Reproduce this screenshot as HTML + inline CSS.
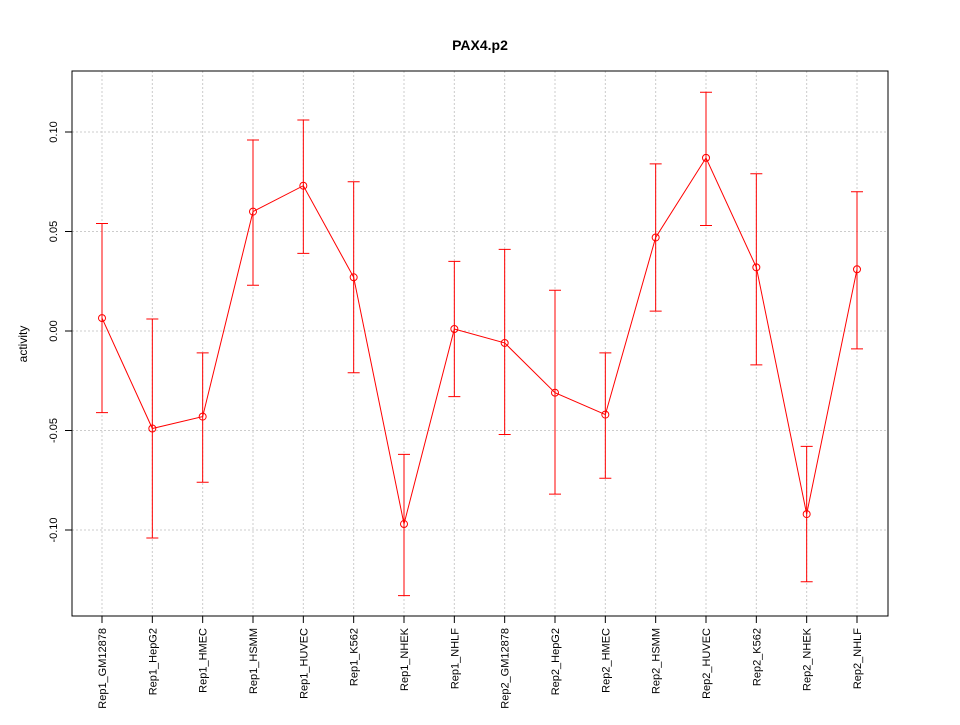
<!DOCTYPE html>
<html><head><meta charset="utf-8"><style>
html,body{margin:0;padding:0;background:#fff;}
svg text{font-family:"Liberation Sans",Arial,sans-serif;}
</style></head><body>
<svg id="chart" width="960" height="720" xmlns="http://www.w3.org/2000/svg">
<rect width="960" height="720" fill="#fff"/>
<text x="480" y="50" text-anchor="middle" font-size="14" font-weight="bold">PAX4.p2</text>
<text transform="translate(27,344) rotate(-90)" text-anchor="middle" font-size="12">activity</text>
<g id="grid"></g><g id="axes"></g><g id="marks"></g>
<rect x="72" y="71" width="816" height="545" fill="none" stroke="#000"/>
</svg>
<script>
const categories=["Rep1_GM12878","Rep1_HepG2","Rep1_HMEC","Rep1_HSMM","Rep1_HUVEC","Rep1_K562","Rep1_NHEK","Rep1_NHLF","Rep2_GM12878","Rep2_HepG2","Rep2_HMEC","Rep2_HSMM","Rep2_HUVEC","Rep2_K562","Rep2_NHEK","Rep2_NHLF"];
const means=[0.0065,-0.049,-0.043,0.060,0.073,0.027,-0.097,0.001,-0.006,-0.031,-0.042,0.047,0.087,0.032,-0.092,0.031];
const upper=[0.054,0.006,-0.011,0.096,0.106,0.075,-0.062,0.035,0.041,0.0205,-0.011,0.084,0.120,0.079,-0.058,0.070];
const lower=[-0.041,-0.104,-0.076,0.023,0.039,-0.021,-0.133,-0.033,-0.052,-0.082,-0.074,0.010,0.053,-0.017,-0.126,-0.009];
const yTicks=[-0.10,-0.05,0.00,0.05,0.10];
const yTickLabels=["-0.10","-0.05","0.00","0.05","0.10"];
const NS="http://www.w3.org/2000/svg";
function y(v){return 331-v*1990;}
function x(i){return 102+i*(857-102)/(categories.length-1);}
function mk(p,t,a){const e=document.createElementNS(NS,t);for(const k in a)e.setAttribute(k,a[k]);p.appendChild(e);return e;}
const grid=document.getElementById('grid'),axes=document.getElementById('axes'),marks=document.getElementById('marks');
categories.forEach((c,i)=>{
 const g=mk(grid,'line',{x1:x(i),x2:x(i),y1:71,y2:616,stroke:'#ccc','stroke-dasharray':'2,2'});
 
 
 mk(axes,'line',{x1:x(i),x2:x(i),y1:616,y2:623,stroke:'#000'});
 const t=mk(axes,'text',{transform:`translate(${x(i)+4},628) rotate(-90)`,'text-anchor':'end','font-size':'11'});
 t.textContent=c;
 
 
});
yTicks.forEach((v,i)=>{
 const g=mk(grid,'line',{x1:72,x2:888,y1:y(v),y2:y(v),stroke:'#ccc','stroke-dasharray':'2,2'});
 
 
 mk(axes,'line',{x1:65,x2:72,y1:y(v),y2:y(v),stroke:'#000'});
 const t=mk(axes,'text',{transform:`translate(57,${y(v)}) rotate(-90)`,'text-anchor':'middle','font-size':'11'});
 t.textContent=yTickLabels[i];
 
 
});
const line=mk(marks,'polyline',{points:means.map((m,i)=>x(i)+','+y(m)).join(' '),fill:'none',stroke:'#f00'});


means.forEach((m,i)=>{
 const eb=mk(marks,'path',{d:`M${x(i)},${y(upper[i])}V${y(lower[i])}M${x(i)-6},${y(upper[i])}h12M${x(i)-6},${y(lower[i])}h12`,stroke:'#f00',fill:'none'});
 
 
 const p=mk(marks,'circle',{cx:x(i),cy:y(m),r:3.5,fill:'none',stroke:'#f00'});
 
 
});
</script>
</body></html>
